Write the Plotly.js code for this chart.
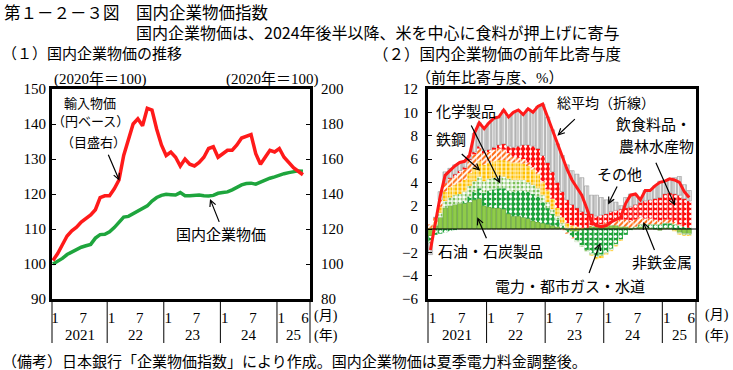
<!DOCTYPE html>
<html><head><meta charset="utf-8">
<script src="https://cdn.plot.ly/plotly-3.0.1.min.js"></script>
<style>html,body{margin:0;padding:0;background:#fff;}#chart{width:733px;height:370px;}</style>
</head><body><div id="chart"></div>
<script>
// ---- data (month index 0 = Jan 2021 ... 53 = Jun 2025) ----
const monthIdx = Array.from({length: 54}, (_, i) => i);
const monthTickIdx = [0,6,12,18,24,30,36,42,48,53];
const monthTickText = ['1','7','1','7','1','7','1','7','1','6'];
const yearLabels = ['2021','22','23','24','25'];
const yearBoundaries = [11.5,23.5,35.5,47.5];

// (1) index levels, 2020=100
const domesticCGPI = [100.0,100.7,101.6,102.7,103.4,104.1,104.8,105.2,105.6,107.4,108.4,108.5,
  109.2,110.4,111.8,113.4,113.6,114.4,115.0,115.8,116.6,118.0,119.0,119.6,
  119.9,119.8,119.7,120.4,119.5,119.5,119.6,119.7,119.5,119.4,119.6,120.2,
  120.4,120.6,121.2,122.0,122.6,123.0,123.1,122.8,123.4,124.0,124.5,124.9,
  125.4,125.8,126.1,126.4,126.6,126.5];
const importPrice = [102,106,111,116,119,121,124,126,128,131,138,139,
  139,143,148,162,171,180,183,179,189,188,177,168,
  162,164,161,156,160,157,156,158,161,166,167,161,
  163,165,165,168,172,173,174,163,157,161,165,164,
  166,161,158,155,153,151];

// (2) contributions to y/y change, %pt
const totalAvg = [-1.8,0.5,2.8,4.6,5.0,5.4,5.7,5.8,6.3,8.2,9.1,8.6,
  9.1,9.5,9.6,10.2,9.6,10.0,10.2,9.8,10.3,10.0,10.5,10.7,
  9.6,8.5,7.3,6.2,5.1,4.2,3.6,2.9,1.8,0.6,0.3,0.2,
  0.3,0.6,0.8,1.0,2.2,2.9,3.0,2.5,3.3,3.3,3.7,4.0,
  4.1,4.3,4.2,4.0,3.2,2.7];
const petroleum = [-0.6,0.3,1.0,1.8,2.0,2.1,2.2,2.2,2.3,2.5,2.6,2.0,
  1.9,1.8,1.8,1.7,1.3,1.1,1.1,1.0,0.9,0.7,0.6,0.5,
  0.4,0.3,0.2,0.1,-0.1,-0.2,-0.2,-0.1,0.1,0.2,0.2,0.2,
  0.2,0.3,0.3,0.2,0.2,0.1,0.1,0.2,0.1,0.1,0.0,-0.1,
  0.1,0.1,-0.1,-0.3,-0.4,-0.4];
const electricity = [-0.5,-0.5,-0.4,-0.3,-0.2,-0.1,0.0,0.2,0.5,0.7,0.9,1.1,
  1.4,1.6,1.7,1.8,2.0,2.1,2.2,2.3,2.3,2.3,2.2,1.8,
  1.4,1.0,0.6,0.2,-0.2,-0.5,-0.8,-1.3,-1.8,-2.1,-2.3,-2.2,
  -2.0,-1.7,-1.3,-0.9,-0.5,-0.1,0.1,0.2,0.3,0.3,0.4,0.4,
  0.4,0.4,0.4,0.3,0.2,0.1];
const chemicals = [-0.1,0.1,0.4,0.6,0.7,0.8,0.8,0.8,0.9,0.9,1.0,1.0,
  1.0,1.0,1.0,1.0,1.0,1.0,0.9,0.9,0.8,0.8,0.7,0.6,
  0.5,0.4,0.3,0.2,0.1,0.0,-0.1,-0.1,-0.1,-0.1,-0.1,-0.1,
  -0.1,-0.1,-0.1,0.0,0.0,0.0,0.0,0.0,0.0,0.0,0.0,0.0,
  0.0,0.0,0.0,-0.1,-0.1,-0.1];
const steel = [0.1,0.2,0.5,0.8,0.9,0.9,1.0,1.0,1.1,1.2,1.3,1.4,
  1.4,1.4,1.4,1.4,1.5,1.5,1.5,1.4,1.4,1.3,1.2,1.1,
  1.0,0.9,0.7,0.5,0.4,0.3,0.2,0.1,0.0,-0.1,-0.2,-0.2,
  -0.1,-0.1,-0.1,-0.1,0.0,0.0,0.0,0.0,0.0,0.0,0.0,0.0,
  0.0,0.0,-0.1,-0.1,-0.1,-0.1];
const nonferrous = [0.3,0.4,0.6,0.7,0.7,0.7,0.8,0.9,1.0,1.1,1.1,1.0,
  0.9,1.0,1.0,0.9,0.7,0.5,0.4,0.4,0.3,0.2,0.2,0.1,
  0.1,0.0,0.0,-0.1,-0.1,-0.1,0.0,0.0,0.0,0.1,0.1,0.2,
  0.3,0.4,0.5,0.6,0.6,0.6,0.6,0.6,0.5,0.5,0.4,0.3,
  0.3,0.3,0.2,0.1,0.0,0.0];
const food = [0.0,0.0,0.0,0.1,0.1,0.2,0.2,0.2,0.2,0.2,0.2,0.2,
  0.2,0.2,0.3,0.5,0.6,0.8,1.0,1.2,1.5,1.8,2.0,2.2,
  2.3,2.3,2.2,2.2,2.0,1.8,1.6,1.4,1.2,1.0,0.8,0.8,
  0.8,0.8,0.8,0.9,1.0,1.2,1.3,1.3,1.5,1.6,1.8,2.0,
  2.2,2.3,2.4,2.5,2.4,2.3];
const others = [-1.0,0.0,0.7,0.9,0.8,0.8,0.7,0.5,0.3,1.6,2.0,1.9,
  2.3,2.5,2.4,2.9,2.5,3.0,3.1,2.6,3.1,2.9,3.6,4.4,
  3.9,3.6,3.3,3.1,3.0,2.9,2.9,2.9,2.4,1.6,1.8,1.5,
  1.2,1.0,0.7,0.3,0.9,1.1,0.9,0.2,0.9,0.8,1.1,1.4,
  1.1,1.2,1.4,1.6,1.2,0.9];

// ---- geometry ----
const W = 733, H = 370;
const px = v => v / W, py = v => 1 - v / H;
const dom1 = [px(52), px(310)], dom2 = [px(428), px(696)];
const rng1 = [-0.2, 54.5], rng2 = [-0.5, 54.4];
const yDom = [py(299), py(89)];

const SERIF = 'Liberation Serif, "Noto Sans CJK JP", serif';
const GOTH = '"Noto Sans CJK JP", sans-serif';

function bar(name, y, color, pattern, line) {
  return {type:'bar', name, x: monthIdx, y, xaxis:'x2', yaxis:'y3',
    marker:{color, pattern: pattern || {shape:''}, line: line || {width:0}}, hoverinfo:'skip'};
}

const traces = [
  {type:'scatter', mode:'lines', x: monthIdx, y: domesticCGPI, xaxis:'x', yaxis:'y',
   line:{color:'#1ea53d', width:3.5}},
  {type:'scatter', mode:'lines', x: monthIdx, y: importPrice, xaxis:'x', yaxis:'y2',
   line:{color:'#ff1a1a', width:3.5}},
  bar('石油・石炭製品', petroleum, '#8fcc4a', null, {color:'#4f8f2a', width:0.6}),
  bar('電力・都市ガス・水道', electricity, '#1ea33a', {shape:'.', bgcolor:'#1ea33a', fgcolor:'#ffffff', size:5, solidity:0.3}),
  bar('化学製品', chemicals, '#ffffff', {shape:'.', bgcolor:'#ffffff', fgcolor:'#7cc25a', size:4, solidity:0.45}, {color:'#b8d8a8', width:0.4}),
  bar('鉄鋼', steel, '#ffc000', {shape:'+', bgcolor:'#ffc000', fgcolor:'#ffffff', size:4, solidity:0.3}),
  bar('非鉄金属', nonferrous, '#ff6a10', {shape:'/', bgcolor:'#ffffff', fgcolor:'#ff6a10', size:4, solidity:0.5}),
  bar('飲食料品・農林水産物', food, '#ff1010', {shape:'.', bgcolor:'#ff1010', fgcolor:'#ffffff', size:5, solidity:0.28}),
  bar('その他', others, '#cccccc', {shape:'|', bgcolor:'#cacaca', fgcolor:'#efefef', size:3, solidity:0.3}, {color:'#8c8c8c', width:0.5}),
  {type:'scatter', mode:'lines', x: monthIdx, y: totalAvg, xaxis:'x2', yaxis:'y3',
   line:{color:'#ff1a1a', width:3}}
];

const tickFont = {family: SERIF, size: 15, color:'#000'};
const xCommon = {showline:true, mirror:true, linewidth:3, linecolor:'#000', ticks:'', showgrid:false,
  zeroline:false, tickmode:'array', tickvals: monthTickIdx, ticktext: monthTickText, tickfont: tickFont,
  ticklabelstandoff: 3, ticklabelshift: 2, fixedrange:true, layer:'above traces'};
const yCommon = {showline:true, linewidth:3, linecolor:'#000', ticks:'inside', ticklen:4, tickwidth:1,
  tickcolor:'#000', showgrid:false, zeroline:false, tickfont: tickFont, fixedrange:true, layer:'above traces'};

// separators and year labels
function toPaper(b, dom, rng) { return dom[0] + (b - rng[0]) / (rng[1] - rng[0]) * (dom[1] - dom[0]); }
const shapes = [];
const annotations = [];
[[dom1, rng1, 'x'], [dom2, rng2, 'x2']].forEach(([dom, rng, xr]) => {
  const bounds = [rng[0], ...yearBoundaries, rng[1]];
  bounds.forEach(b => shapes.push({type:'line', xref:'paper', yref:'paper',
    x0: toPaper(b, dom, rng), x1: toPaper(b, dom, rng), y0: py(300), y1: py(343),
    line:{color:'#000', width:1}}));
  yearLabels.forEach((lab, i) => annotations.push({xref: xr, yref:'paper',
    x: (bounds[i] + bounds[i+1]) / 2, y: py(335), text: lab, showarrow:false,
    font:{family: SERIF, size:15, color:'#000'}, xanchor:'center', yanchor:'middle'}));
});
shapes.push({type:'line', xref:'x2 domain', yref:'y3', x0:0, x1:1, y0:0, y1:0,
  line:{color:'#000', width:1}, layer:'above'});

function txt(text, x, y, size, family, xanchor) {
  annotations.push({xref:'paper', yref:'paper', x: px(x), y: py(y), text, showarrow:false,
    font:{family: family || SERIF, size: size || 15, color:'#000'}, xanchor: xanchor || 'center', yanchor:'middle'});
}
function arrow(xr, yr, x, y, ax, ay) {
  annotations.push({xref: xr, yref: yr, x, y, ax, ay, text:' ', showarrow:true, arrowhead:5,
    arrowsize:1, arrowwidth:1.2, arrowcolor:'#000', standoff:0, startstandoff:0, font:{size:1}});
}

txt('第１－２－３図　国内企業物価指数', 2, 12, 16.5, GOTH, 'left');
txt('国内企業物価は、2024年後半以降、米を中心に食料が押上げに寄与', 378, 32, 16, GOTH);
txt('（１）国内企業物価の推移', 0, 53, 15, GOTH, 'left');
txt('（２）国内企業物価の前年比寄与度', 371, 53, 15.5, GOTH, 'left');
txt('(2020年＝100)', 100, 79, 15);
txt('(2020年＝100)', 272, 79, 15);
txt('（前年比寄与度、%）', 490, 78, 15);
txt('輸入物価', 90, 103, 13);
txt('（円ベース）', 90, 122, 13);
txt('（目盛右）', 93, 142, 13);
txt('国内企業物価', 221, 235, 15);
txt('総平均（折線）', 606, 103, 14);
txt('化学製品', 466, 112, 15);
txt('鉄鋼', 451, 140, 15);
txt('飲食料品・', 653, 125, 15);
txt('農林水産物', 656, 147, 15);
txt('その他', 619, 175, 15);
txt('石油・石炭製品', 490, 252, 15);
txt('電力・都市ガス・水道', 570, 287, 15);
txt('非鉄金属', 662, 263, 15);
txt('(月)', 326, 316, 14);
txt('(年)', 326, 336, 14);
txt('(月)', 717, 315, 14);
txt('(年)', 717, 336, 14);
txt('（備考）日本銀行「企業物価指数」により作成。国内企業物価は夏季電力料金調整後。', 0, 362, 15, SERIF, 'left');

// arrows (tip at data point, tail offset in px)
arrow('x', 'y', 14.1, 123.8, -12, -28);
arrow('x', 'y', 33.3, 118.6, 10, 25);
arrow('x2', 'y3', 26.0, 8.0, 19, -18);
arrow('x2', 'y3', 14.3, 3.9, -30, -60);
arrow('x2', 'y3', 10.2, 5.0, -20, -18);
arrow('x2', 'y3', 50.1, 2.0, -20, -45);
arrow('x2', 'y3', 36.4, 2.1, 10, -20);
arrow('x2', 'y3', 9.6, 1.0, 10, 23);
arrow('x2', 'y3', 34.8, -1.2, -12, 32);
arrow('x2', 'y3', 43.6, 0.6, 12, 30);

const layout = {
  width: W, height: H, margin:{l:0, r:0, t:0, b:0}, paper_bgcolor:'#fff', plot_bgcolor:'#fff',
  showlegend:false, barmode:'relative', bargap:0.12, font:{family: SERIF, color:'#000'},
  xaxis: Object.assign({}, xCommon, {domain: dom1, range: rng1, anchor:'y'}),
  yaxis: Object.assign({}, yCommon, {domain: yDom, range:[90,150], dtick:10, tick0:90, anchor:'x'}),
  yaxis2: Object.assign({}, yCommon, {overlaying:'y', side:'right', range:[80,200], dtick:20, tick0:80, anchor:'x', ticklabelstandoff:5}),
  xaxis2: Object.assign({}, xCommon, {domain: dom2, range: rng2, anchor:'y3'}),
  yaxis3: Object.assign({}, yCommon, {domain: yDom, range:[-6,12], dtick:2, tick0:-6, anchor:'x2', mirror:true, ticklabelstandoff:4}),
  shapes, annotations
};
Plotly.newPlot('chart', traces, layout, {displayModeBar:false, staticPlot:true});
</script></body></html>
